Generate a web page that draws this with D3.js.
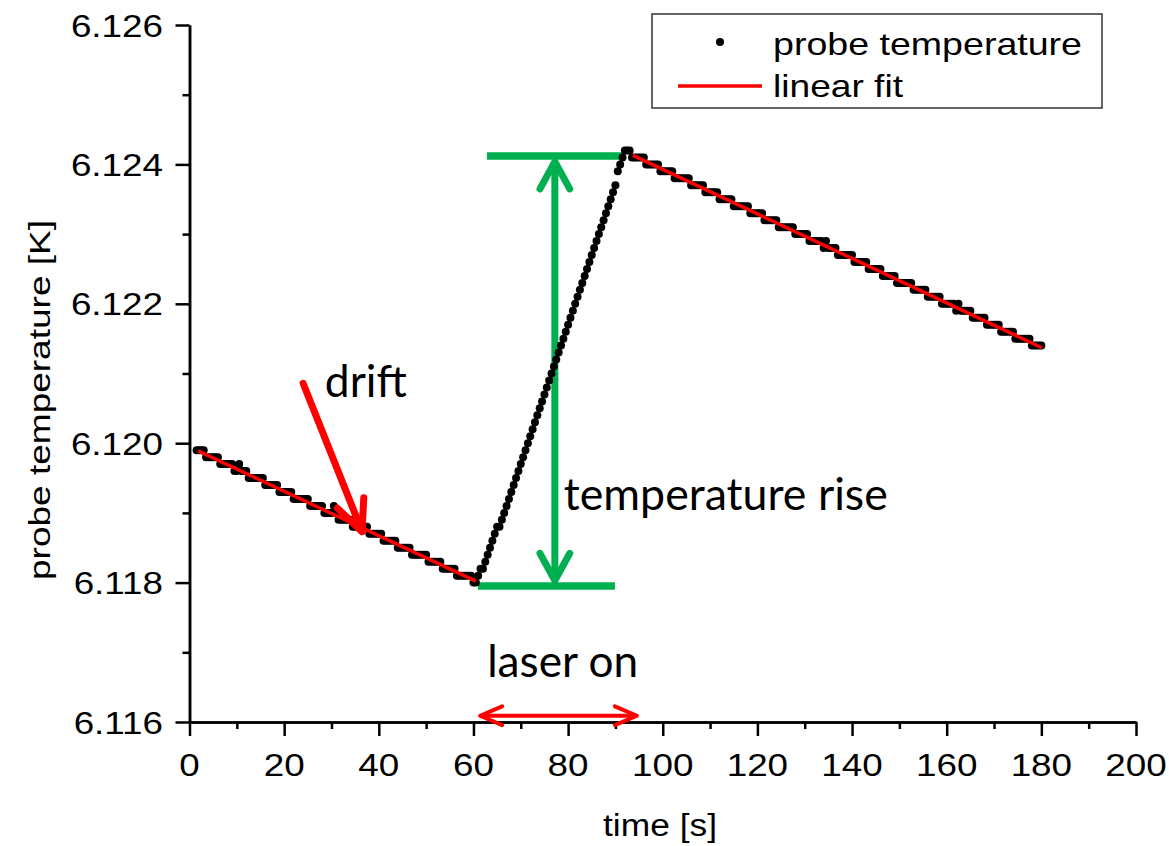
<!DOCTYPE html>
<html>
<head>
<meta charset="utf-8">
<script src="https://cdn.jsdelivr.net/npm/d3@7"></script>
<style>
  body { margin: 0; background: #fff; }
  svg { display: block; }
</style>
</head>
<body>
<svg id="chart" width="1169" height="846"></svg>
<script>
// ---------------------------------------------------------------
// Probe temperature record. Values are thermometer counts of
// 0.1 mK above 6.110 K, sampled every 0.5 s starting at t = 1.5 s.
// ---------------------------------------------------------------
const T_BASE = 6.110;        // K
const COUNT_K = 1e-4;        // K per count
const SAMPLE_START = 1.5;    // s
const SAMPLE_STEP = 0.5;     // s

// 1.5 s – 60.5 s : drift before the laser is switched on
const countsBefore = [
  99,99,99,99,
  98,98,98,98,98,98,
  97,97,97,97,97,97,
  96,96,97,96,96,96,
  95,95,95,95,95,95,95,
  94,94,94,94,94,94,
  93,93,93,93,93,93,
  92,92,92,92,92,92,92,
  91,91,91,91,91,91,
  90,90,90,90,91,90,
  89,89,89,89,89,89,
  88,88,88,88,88,88,88,
  87,87,87,87,87,87,
  86,86,86,86,86,86,
  85,85,85,85,85,85,
  84,84,84,84,84,84,84,
  83,83,83,83,83,83,
  82,82,82,82,82,82,
  81,81,81,81,81,81,81,
  80,80
];

// 61.0 s – 91.5 s : heating while the laser is on
const countsLaser = [
  81,82,82,83,84,85,86,87,88,88,
  89,90,91,92,93,94,95,96,97,98,
  99,100,101,102,103,104,105,106,107,108,
  109,110,111,112,113,114,115,116,117,118,
  119,120,121,122,123,124,125,126,127,128,
  129,130,131,132,133,134,135,136,137,139,
  140,141
];

// 92.0 s – 180.0 s : drift after the laser is switched off
const countsAfter = [
  142,142,142,
  141,141,141,141,141,141,
  140,140,140,140,140,140,
  139,139,139,139,139,139,
  138,138,138,138,138,138,138,
  137,137,137,137,137,137,
  136,136,136,136,136,136,
  135,135,135,135,135,135,
  134,134,134,134,134,134,134,
  133,133,133,133,133,133,
  132,132,132,132,132,132,
  131,131,131,131,131,131,131,
  130,130,130,130,130,130,
  129,129,129,129,129,129,
  128,129,128,128,128,128,
  127,127,127,127,127,127,127,
  126,126,126,126,126,126,
  125,125,125,125,125,125,
  124,124,124,124,124,124,
  123,123,123,123,123,123,123,
  122,122,122,122,122,122,
  121,121,121,121,121,121,
  120,120,120,120,120,120,
  119,120,119,119,119,119,119,
  118,118,118,118,118,118,
  117,117,117,117,117,117,
  116,116,116,116,116,116,
  115,115,115,115,115,115,115,
  114,114,114,114,114
];

// Linear fits to the two drift intervals (end points: time [s], temperature [K])
const fitBeforeTime = [1.8, 60.5];
const fitBeforeTemp = [6.11989, 6.11802];
const fitAfterTime  = [93.7, 180.1];
const fitAfterTemp  = [6.12413, 6.12137];

// Axis ticks
const xTicks = [0, 20, 40, 60, 80, 100, 120, 140, 160, 180, 200];
const xMinorTicks = [10, 30, 50, 70, 90, 110, 130, 150, 170, 190];
const yTicks = [6.116, 6.118, 6.120, 6.122, 6.124, 6.126];
const yMinorTicks = [6.117, 6.119, 6.121, 6.123, 6.125];

// Annotation anchors in data units
const riseTopTemp = 6.12412, riseBottomTemp = 6.11795;
const riseTopSpan = [62.85, 91.4], riseBottomSpan = [60.95, 89.9];
const riseArrowTime = 77.2, riseArrowTips = [6.12404, 6.11803];
const laserSpan = [61.4, 94.55], laserArrowTemp = 6.11609;
const driftArrowFrom = [24.0, 6.12086], driftArrowTo = [36.45, 6.11873];

// ---------------------------------------------------------------
const samples = [...countsBefore, ...countsLaser, ...countsAfter].map((c, i) => ({
  t: SAMPLE_START + i * SAMPLE_STEP,
  T: T_BASE + c * COUNT_K
}));

const svg = d3.select('#chart');
const x = d3.scaleLinear().domain([0, 200]).range([189.5, 1136]);
const y = d3.scaleLinear().domain([6.116, 6.126]).range([722, 25]);

const RED = '#ff0000', GREEN = '#00b050';
const SANS = '"Liberation Sans", Arial, sans-serif';
const HUMANIST = 'Lato, "Open Sans", sans-serif';
const STRETCH = 1.15;
const DOT_R = 4;

// Text helper: lays text out from a left, centre or right anchor with a set width
function label(parent, str, px, py, opts) {
  const t = parent.append('text')
    .text(str)
    .attr('font-family', opts.family || SANS)
    .attr('font-size', opts.size)
    .attr('fill', opts.fill || '#000')
    .attr('y', py);
  const natural = t.node().getComputedTextLength();
  const w = opts.width || natural * STRETCH;
  t.attr('textLength', w).attr('lengthAdjust', 'spacingAndGlyphs');
  const anchor = opts.anchor || 'start';
  const x0 = anchor === 'middle' ? px - w / 2 : anchor === 'end' ? px - w : px;
  t.attr('x', x0);
  return t;
}

// Chevron arrow head with its point at (tx, ty), opening back along (dx, dy)
function chevron(tx, ty, dx, dy, len, halfAngle) {
  const a = Math.atan2(dy, dx);
  const p1 = [tx + len * Math.cos(a + halfAngle), ty + len * Math.sin(a + halfAngle)];
  const p2 = [tx + len * Math.cos(a - halfAngle), ty + len * Math.sin(a - halfAngle)];
  return `M${p1[0]},${p1[1]}L${tx},${ty}L${p2[0]},${p2[1]}`;
}

// ---- axes ----
const axisStyle = g => {
  g.selectAll('path, line').attr('stroke', '#000').attr('stroke-width', 2.5);
  g.selectAll('text').remove();
};
svg.append('g').attr('transform', `translate(0,${y(6.116)})`)
  .call(d3.axisBottom(x).tickValues(xMinorTicks).tickSize(7).tickSizeOuter(0).tickFormat(''))
  .call(axisStyle);
svg.append('g').attr('transform', `translate(0,${y(6.116)})`)
  .call(d3.axisBottom(x).tickValues(xTicks).tickSize(14).tickSizeOuter(0).tickFormat(''))
  .call(axisStyle);
svg.append('g').attr('transform', `translate(${x(0)},0)`)
  .call(d3.axisLeft(y).tickValues(yMinorTicks).tickSize(7).tickSizeOuter(0).tickFormat(''))
  .call(axisStyle);
svg.append('g').attr('transform', `translate(${x(0)},0)`)
  .call(d3.axisLeft(y).tickValues(yTicks).tickSize(14).tickSizeOuter(0).tickFormat(''))
  .call(axisStyle);

const labels = svg.append('g');
xTicks.forEach(v => label(labels, String(v), x(v), 776, { size: 32, anchor: 'middle' }));
yTicks.forEach(v => label(labels, d3.format('.3f')(v), 163, y(v) + 11.5, { size: 32, anchor: 'end' }));

label(labels, 'time [s]', 660, 836, { size: 31, anchor: 'middle', width: 114 });
const yTitle = svg.append('g').attr('transform', 'translate(50,400) rotate(-90)');
label(yTitle, 'probe temperature [K]', 0, 0, { size: 30, anchor: 'middle', width: 360 });

// ---- temperature-rise markers (under the data) ----
const green = svg.append('g').attr('stroke', GREEN).attr('fill', 'none').attr('stroke-width', 7.5);
green.append('line')
  .attr('x1', x(riseTopSpan[0])).attr('x2', x(riseTopSpan[1]))
  .attr('y1', y(riseTopTemp)).attr('y2', y(riseTopTemp));
green.append('line')
  .attr('x1', x(riseBottomSpan[0])).attr('x2', x(riseBottomSpan[1]))
  .attr('y1', y(riseBottomTemp)).attr('y2', y(riseBottomTemp));
green.append('line')
  .attr('x1', x(riseArrowTime)).attr('x2', x(riseArrowTime))
  .attr('y1', y(riseArrowTips[0]) + 3).attr('y2', y(riseArrowTips[1]) - 3)
  .attr('stroke-width', 7);
green.append('path')
  .attr('d', chevron(x(riseArrowTime), y(riseArrowTips[0]), 0, 1, 31, 0.5))
  .attr('stroke-linecap', 'round').attr('stroke-linejoin', 'round').attr('stroke-width', 7);
green.append('path')
  .attr('d', chevron(x(riseArrowTime), y(riseArrowTips[1]), 0, -1, 31, 0.5))
  .attr('stroke-linecap', 'round').attr('stroke-linejoin', 'round').attr('stroke-width', 7);

// ---- measured points ----
svg.append('g').selectAll('circle')
  .data(samples)
  .join('circle')
  .attr('cx', d => x(d.t))
  .attr('cy', d => y(d.T))
  .attr('r', DOT_R)
  .attr('fill', '#000');

// ---- linear fits ----
const fitLine = d3.line().x(d => x(d[0])).y(d => y(d[1]));
[[fitBeforeTime, fitBeforeTemp], [fitAfterTime, fitAfterTemp]].forEach(([ts, Ts]) => {
  svg.append('path')
    .attr('d', fitLine(ts.map((t, i) => [t, Ts[i]])))
    .attr('stroke', RED).attr('stroke-width', 3.5).attr('fill', 'none');
});

// ---- red annotations ----
const red = svg.append('g').attr('stroke', RED).attr('fill', 'none')
  .attr('stroke-linecap', 'round').attr('stroke-linejoin', 'round');
const dA = [x(driftArrowFrom[0]), y(driftArrowFrom[1])];
const dB = [x(driftArrowTo[0]), y(driftArrowTo[1])];
red.append('line')
  .attr('x1', dA[0]).attr('y1', dA[1]).attr('x2', dB[0] - 1).attr('y2', dB[1] - 3)
  .attr('stroke-width', 7);
red.append('path')
  .attr('d', chevron(dB[0], dB[1], dA[0] - dB[0], dA[1] - dB[1], 34, 0.43))
  .attr('stroke-width', 7);

const lY = y(laserArrowTemp);
red.append('line')
  .attr('x1', x(laserSpan[0]) + 2).attr('x2', x(laserSpan[1]) - 2)
  .attr('y1', lY).attr('y2', lY).attr('stroke-width', 4);
red.append('path').attr('d', chevron(x(laserSpan[0]), lY, 1, 0, 24, 0.4)).attr('stroke-width', 4);
red.append('path').attr('d', chevron(x(laserSpan[1]), lY, -1, 0, 24, 0.4)).attr('stroke-width', 4);

// ---- annotation texts ----
const notes = svg.append('g');
label(notes, 'drift', x(28.6), y(6.12066), { family: HUMANIST, size: 44, width: 82 });
label(notes, 'temperature rise', x(79.1), y(6.119042), { family: HUMANIST, size: 44, width: 324 });
label(notes, 'laser on', x(62.9), y(6.116646), { family: HUMANIST, size: 44, width: 151 });

// ---- legend ----
const legend = svg.append('g');
legend.append('rect')
  .attr('x', 652).attr('y', 14).attr('width', 450).attr('height', 94)
  .attr('fill', '#fff').attr('stroke', '#333').attr('stroke-width', 1.5);
legend.append('circle').attr('cx', 720).attr('cy', 42).attr('r', DOT_R).attr('fill', '#000');
legend.append('line').attr('x1', 678).attr('x2', 762).attr('y1', 86).attr('y2', 86)
  .attr('stroke', RED).attr('stroke-width', 3.5);
label(legend, 'probe temperature', 773, 55, { size: 32, width: 309 });
label(legend, 'linear fit', 773, 97, { size: 32, width: 130 });
</script>
</body>
</html>
